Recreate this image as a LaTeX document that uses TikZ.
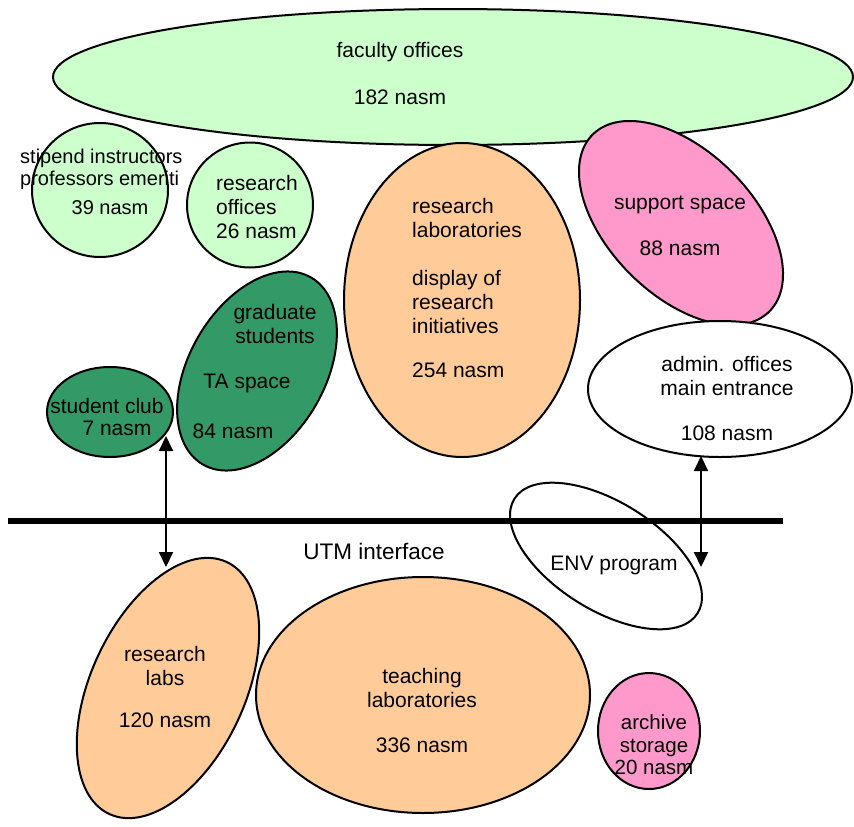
\documentclass[tikz,border=0pt]{standalone}
\usepackage{fontspec}
\setmainfont{Liberation Sans}
\usetikzlibrary{shapes.geometric,arrows.meta}
\definecolor{lgreen}{HTML}{CCFFCC}
\definecolor{dgreen}{HTML}{339966}
\definecolor{lorange}{HTML}{FFCC99}
\definecolor{lpink}{HTML}{FF99CC}
\tikzset{
  blob/.style={ellipse, draw=black, line width=2pt, inner sep=0pt},
  lbl/.style={font={\fontsize{21}{24}\selectfont}, inner sep=0pt, text=black},
  small/.style={font={\fontsize{20}{22}\selectfont}},
  dbl/.style={line width=2pt, {Triangle[width=14pt,length=15pt]}-{Triangle[width=14pt,length=15pt]}}
}
\begin{document}
\begin{tikzpicture}[x=1pt,y=-1pt]
\useasboundingbox (0,0) rectangle (854,827);
% shapes
\node[blob, fill=lgreen, minimum width=800pt, minimum height=136pt] (fac) at (453,77) {};
\node[blob, fill=lgreen, minimum width=136pt, minimum height=134pt] (stip) at (100,190) {};
\node[blob, fill=lgreen, minimum width=126pt, minimum height=125pt] (roff) at (250,205) {};
\node[blob, fill=dgreen, minimum width=216pt, minimum height=136pt, rotate=60] (grad) at (257,371) {};
\node[blob, fill=dgreen, minimum width=126pt, minimum height=90pt] (club) at (110,412) {};
\node[blob, fill=lorange, minimum width=236pt, minimum height=314pt] (rlab) at (462,300) {};
\node[blob, fill=lpink, minimum width=250pt, minimum height=144pt, rotate=-45] (supp) at (681,223) {};
\node[blob, fill=white, minimum width=264pt, minimum height=136pt] (admin) at (720,389) {};
\node[blob, fill=white, minimum width=216pt, minimum height=108pt, rotate=-32] (env) at (606,556) {};
\node[blob, fill=lorange, minimum width=278pt, minimum height=154pt, rotate=65] (rlabs) at (168,688) {};
\node[blob, fill=lorange, minimum width=334pt, minimum height=236pt] (teach) at (423,695) {};
\node[blob, fill=lpink, minimum width=102pt, minimum height=116pt] (arch) at (649,731) {};
% interface line
\coordinate (lineL) at (8,521);
\coordinate (lineR) at (783,521);
\draw[line width=6pt] (lineL) -- (lineR);
% arrows
\coordinate (a1t) at (166,436);
\coordinate (a1b) at (166,567);
\draw[dbl] (a1t) -- (a1b);
\coordinate (a2t) at (701,456);
\coordinate (a2b) at (701,567);
\draw[dbl] (a2t) -- (a2b);
% labels
\node[lbl] (t1) at (400,52) {faculty offices};
\node[lbl] (t2) at (400,97) {182 nasm};
\node[lbl, small, anchor=west, align=left] (t3) at (20,169) {stipend instructors\\professors emeriti};
\node[lbl, small] (t4) at (110,208) {39 nasm};
\node[lbl, anchor=west, align=left] (t5) at (216,207) {research\\offices\\26 nasm};
\node[lbl, align=center] (t6) at (275,324) {graduate\\students};
\node[lbl] (t7) at (247,383) {TA space};
\node[lbl] (t8) at (233,431) {84 nasm};
\node[lbl] (t9) at (107,406) {student club};
\node[lbl] (t9b) at (117,428) {7 nasm};
\node[lbl, anchor=west, align=left] (t10) at (412,218) {research\\laboratories};
\node[lbl, anchor=west, align=left] (t11) at (412,302) {display of\\research\\initiatives};
\node[lbl, anchor=west] (t12) at (412,370) {254 nasm};
\node[lbl] (t13) at (680,205) {support space};
\node[lbl] (t14) at (680,248) {88 nasm};
\node[lbl, align=center] (t15) at (727,376) {admin. offices\\main entrance};
\node[lbl] (t16) at (727,433) {108 nasm};
\node[lbl, font={\fontsize{22.5}{26}\selectfont}] (t17) at (374,551) {UTM interface};
\node[lbl] (t18) at (614,565) {ENV program};
\node[lbl, align=center] (t19) at (165,666) {research\\labs};
\node[lbl] (t20) at (165,720) {120 nasm};
\node[lbl, align=center] (t21) at (422,688) {teaching\\laboratories};
\node[lbl] (t22) at (422,745) {336 nasm};
\node[lbl, align=center, font={\fontsize{20.5}{22.5}\selectfont}] (t23) at (654,745) {archive\\storage\\20 nasm};
\end{tikzpicture}
\end{document}
